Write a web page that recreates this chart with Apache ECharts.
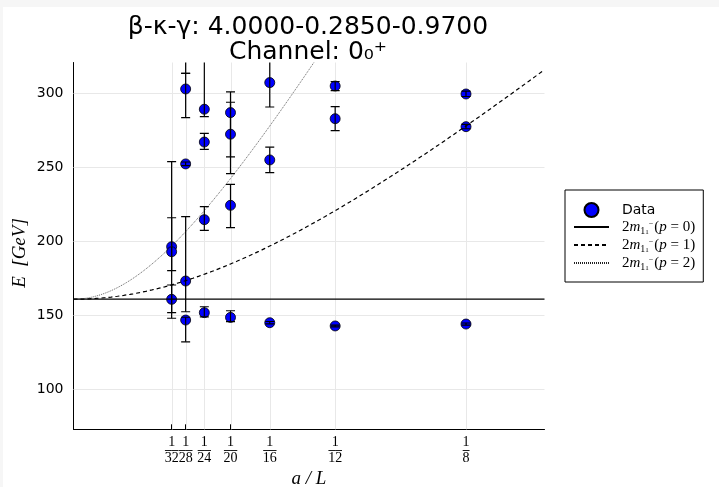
<!DOCTYPE html>
<html>
<head>
<meta charset="utf-8">
<script src="https://cdn.jsdelivr.net/npm/echarts@6/dist/echarts.min.js"></script>
<style>
html, body { margin: 0; padding: 0; background: #f6f6f6; }
#chart { position: absolute; left: 3px; top: 7px; width: 716px; height: 480px; background: #fff; }
</style>
</head>
<body>
<div id="chart"></div>
<script>
// lattice extents L, ticks sit at a/L = 1/L
var tickDenoms = [32, 28, 24, 20, 16, 12, 8];
var yTicks = [100, 150, 200, 250, 300];

// energy levels (GeV) with lower / upper end of the error bar
var pointL  = [32, 32, 32, 28, 28, 28, 28, 28, 24, 24, 24, 24, 20, 20, 20, 20, 16, 16, 16, 12, 12, 12, 8, 8, 8];
var pointE  = [196.2, 192.8, 160.6, 302.9, 252.2, 173.0, 146.6, 335.0, 289.2, 267.0, 214.5, 151.6,
               286.9, 272.3, 224.2, 148.4, 307.2, 254.9, 144.8, 304.9, 282.8, 142.6, 299.5, 277.4, 143.9];
var errLow  = [147.8, 180.0, 151.6, 283.5, 251.0, 152.2, 131.9, 313.5, 284.2, 262.1, 207.3, 148.8,
               256.9, 245.6, 209.1, 145.5, 290.7, 246.3, 144.0, 301.8, 274.7, 142.0, 297.8, 276.0, 143.2];
var errHigh = [253.7, 215.8, 170.3, 313.5, 253.5, 216.5, 148.5, 356.0, 340.0, 272.9, 223.3, 155.6,
               300.9, 293.9, 238.4, 152.9, 335.0, 263.5, 145.6, 307.8, 290.9, 143.2, 301.5, 279.0, 144.6];

// two-particle threshold: m(1_1^-) and inverse lattice spacing (GeV)
var mass1 = 80.35;
var invSpacing = 144.3;

var chart = echarts.init(document.getElementById('chart'));

var scatterData = [], errData = [];
for (var i = 0; i < pointE.length; i++) {
  scatterData.push([1 / pointL[i], pointE[i]]);
  errData.push([1 / pointL[i], errLow[i], errHigh[i]]);
}

// free two-particle energy 2*sqrt(m^2 + (2 pi n a^-1 a/L)^2)
function twoParticle(n, x) {
  var p = 2 * Math.PI * n * invSpacing * x;
  return 2 * Math.sqrt(mass1 * mass1 + p * p);
}
function curve(n) {
  var pts = [];
  for (var k = 0; k <= 150; k++) {
    var x = k * 0.001;
    pts.push([x, twoParticle(n, x)]);
  }
  return pts;
}

function renderErrorBar(params, api) {
  var x = api.value(0);
  var lo = api.coord([x, api.value(1)]);
  var hi = api.coord([x, api.value(2)]);
  var w = 4.5;
  var st = { stroke: '#000', lineWidth: 1.2 };
  return {
    type: 'group',
    children: [
      { type: 'line', shape: { x1: lo[0], y1: lo[1], x2: hi[0], y2: hi[1] }, style: st },
      { type: 'line', shape: { x1: lo[0] - w, y1: lo[1], x2: lo[0] + w, y2: lo[1] }, style: st },
      { type: 'line', shape: { x1: hi[0] - w, y1: hi[1], x2: hi[0] + w, y2: hi[1] }, style: st }
    ]
  };
}

// light grid lines at the tick positions
function renderVGrid(params, api) {
  var p = api.coord([api.value(0), api.value(1)]);
  var cs = params.coordSys;
  var x = Math.round(p[0]) + 0.5;
  return { type: 'line', shape: { x1: x, y1: cs.y, x2: x, y2: cs.y + cs.height }, style: { stroke: '#e8e8e8', lineWidth: 1 } };
}
function renderHGrid(params, api) {
  var p = api.coord([api.value(0), api.value(1)]);
  var cs = params.coordSys;
  var y = Math.round(p[1]) + 0.5;
  return { type: 'line', shape: { x1: cs.x, y1: y, x2: cs.x + cs.width, y2: y }, style: { stroke: '#e8e8e8', lineWidth: 1 } };
}

var mathRich = {
  t: { fontFamily: 'DejaVu Sans', fontSize: 14, color: '#000', lineHeight: 18 },
  a: { fontFamily: 'Liberation Serif', fontSize: 15, color: '#000', lineHeight: 18 },
  i: { fontFamily: 'Liberation Serif', fontStyle: 'italic', fontSize: 15, color: '#000', lineHeight: 18 },
  s: { fontFamily: 'Liberation Serif', fontSize: 10, color: '#000', lineHeight: 10, padding: [8, 0, 0, 0] },
  ss: { fontFamily: 'Liberation Serif', fontSize: 7, color: '#000', lineHeight: 7, padding: [11, 0, 0, 0] },
  sp: { fontFamily: 'Liberation Serif', fontSize: 8, color: '#000', lineHeight: 8, padding: [0, 1, 7, 0] }
};

var hiddenSymbol = { color: 'transparent', borderWidth: 0 };

var option = {
  backgroundColor: '#fff',
  animation: false,
  title: {
    text: 'β-κ-γ: 4.0000-0.2850-0.9700\nChannel: 0₀⁺',
    left: 305,
    top: 8,
    padding: 0,
    textAlign: 'center',
    textStyle: { fontFamily: 'DejaVu Sans', fontSize: 25, fontWeight: 'normal', color: '#000', lineHeight: 25 }
  },
  grid: { left: 70.5, top: 55.5, width: 471, height: 366.8, outerBoundsMode: 'none', containLabel: false },
  legend: {
    orient: 'vertical',
    left: 562,
    top: 183,
    padding: [12, 8, 10, 8],
    itemGap: 0,
    itemWidth: 35,
    itemHeight: 14,
    borderColor: '#000',
    borderWidth: 1,
    data: [
      { name: 'Data' },
      { name: 'p0', itemStyle: hiddenSymbol },
      { name: 'p1', itemStyle: hiddenSymbol },
      { name: 'p2', itemStyle: hiddenSymbol }
    ],
    textStyle: { rich: mathRich, padding: [0, 0, 0, 8] },
    formatter: function (name) {
      if (name === 'Data') return '{t|Data}';
      var n = name.charAt(1);
      return '{a|2}{i|m}{s|1}{ss|1}{sp|−}{a|(}{i|p}{a| = ' + n + ')}';
    }
  },
  xAxis: {
    type: 'value',
    min: 0,
    max: 0.15,
    name: 'a / L',
    nameLocation: 'middle',
    nameGap: 40,
    nameMoveOverlap: false,
    nameTextStyle: { fontFamily: 'Liberation Serif', fontStyle: 'italic', fontSize: 19, color: '#000', verticalAlign: 'top' },
    axisLine: { lineStyle: { color: '#000', width: 1 } },
    axisTick: { inside: true, length: 5, lineStyle: { color: '#000' }, customValues: tickDenoms.map(function (d) { return 1 / d; }) },
    splitLine: { show: false },
    axisLabel: {
      customValues: tickDenoms.map(function (d) { return 1 / d; }),
      margin: 7,
      formatter: function (v) {
        var d = String(Math.round(1 / v));
        return '{n|1}\n{b|' + (d.length > 1 ? '──' : '─') + '}\n{n|' + d + '}';
      },
      rich: {
        n: { fontFamily: 'Liberation Serif', fontSize: 14, color: '#000', lineHeight: 13 },
        b: { fontFamily: 'DejaVu Sans', fontSize: 11, color: '#000', lineHeight: 3 }
      }
    }
  },
  yAxis: {
    type: 'value',
    min: 72.7,
    max: 320.8,
    name: 'E  [GeV]   ',
    nameLocation: 'middle',
    nameGap: 44,
    nameMoveOverlap: false,
    nameRotate: 90,
    nameTextStyle: { fontFamily: 'Liberation Serif', fontStyle: 'italic', fontSize: 19, color: '#000' },
    axisLine: { show: true, lineStyle: { color: '#000', width: 1 } },
    axisTick: { show: true, inside: true, length: 5, lineStyle: { color: '#000' }, customValues: yTicks },
    splitLine: { show: false },
    axisLabel: { customValues: yTicks, margin: 10, fontFamily: 'DejaVu Sans', fontSize: 14, color: '#000' }
  },
  series: [
    {
      name: 'vgrid', type: 'custom', silent: true, z: 1,
      data: tickDenoms.map(function (d) { return [1 / d, 100]; }),
      renderItem: renderVGrid, encode: { x: 0, y: 1 }
    },
    {
      name: 'hgrid', type: 'custom', silent: true, z: 1,
      data: yTicks.map(function (v) { return [0.05, v]; }),
      renderItem: renderHGrid, encode: { x: 0, y: 1 }
    },
    {
      name: 'Data',
      type: 'scatter',
      data: scatterData,
      symbol: 'circle',
      symbolSize: 10,
      itemStyle: { color: '#0000ff', borderColor: '#000', borderWidth: 0.8, opacity: 1 },
      z: 3
    },
    {
      name: 'errors',
      type: 'custom',
      data: errData,
      renderItem: renderErrorBar,
      encode: { x: 0, y: [1, 2] },
      clip: true,
      z: 4
    },
    {
      name: 'p0', type: 'line', data: curve(0), showSymbol: false, symbol: 'none', clip: true, z: 5,
      lineStyle: { color: '#000', width: 1.2, type: 'solid' }
    },
    {
      name: 'p1', type: 'line', data: curve(1), showSymbol: false, symbol: 'none', clip: true, z: 5,
      lineStyle: { color: '#000', width: 1.2, type: [4, 3] }
    },
    {
      name: 'p2', type: 'line', data: curve(2), showSymbol: false, symbol: 'none', clip: true, z: 5,
      lineStyle: { color: '#222', width: 0.7, type: [1, 1] }
    }
  ]
};
chart.setOption(option);
</script>
</body>
</html>
